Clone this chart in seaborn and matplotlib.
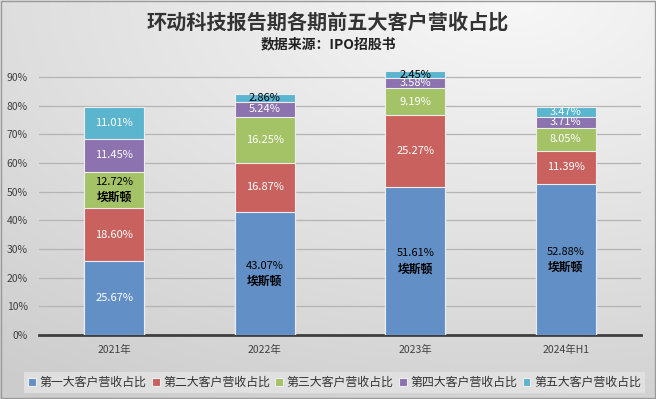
import numpy as np
import pandas as pd
import matplotlib
matplotlib.use("Agg")
import matplotlib.pyplot as plt
import seaborn as sns

periods = ["2021年", "2022年", "2023年", "2024年H1"]
series_names = ["第一大客户营收占比", "第二大客户营收占比", "第三大客户营收占比",
                "第四大客户营收占比", "第五大客户营收占比"]
top1 = [25.67, 43.07, 51.61, 52.88]
top2 = [18.60, 16.87, 25.27, 11.39]
top3 = [12.72, 16.25, 9.19, 8.05]
top4 = [11.45, 5.24, 3.58, 3.71]
top5 = [11.01, 2.86, 2.45, 3.47]
# customer name annotations: (series index, period index) -> name
customer_notes = {(2, 0): "埃斯顿", (0, 1): "埃斯顿", (0, 2): "埃斯顿", (0, 3): "埃斯顿"}

colors = ["#6290C6", "#C9625F", "#A4C266", "#8C72AE", "#5BB5CE"]
label_colors = [
    ["white", "black", "black", "black"],
    ["white", "white", "white", "white"],
    ["black", "white", "white", "white"],
    ["white", "white", "white", "white"],
    ["white", "black", "black", "white"],
]

sns.set_theme(style="white")
plt.rcParams["font.family"] = ["Noto Sans CJK SC", "DejaVu Sans"]

fig = plt.figure(figsize=(6.56, 3.99), dpi=100)

# gradient background
bg = fig.add_axes([0, 0, 1, 1], zorder=-10)
H, W = 200, 330
yy, xx = np.mgrid[0:H, 0:W]
xn = xx / (W - 1)
yn = 1 - yy / (H - 1)
dist = np.sqrt(((xn - 0.78) * 1.0) ** 2 + ((yn - 1.0) * 1.1) ** 2)
v = np.clip(0.97 - 0.13 * dist, 0.80, 1.0)
bg.imshow(np.dstack([v, v, v]), extent=[0, 1, 0, 1], aspect="auto", origin="upper")
bg.set_xlim(0, 1)
bg.set_ylim(0, 1)
bg.axis("off")
bg.add_patch(plt.Rectangle((0.001, 0.002), 0.997, 0.995, fill=False,
                           edgecolor="#9A9A9A", lw=1.0, transform=bg.transAxes))

ax = fig.add_axes([39 / 656, 1 - 335 / 399, 602 / 656, (335 - 70) / 399])
ax.set_facecolor("none")

series = [top1, top2, top3, top4, top5]
cums = np.cumsum(np.array(series), axis=0) / 100.0
df = pd.DataFrame({"period": periods})
for i in range(4, -1, -1):
    df["cum"] = cums[i]
    sns.barplot(data=df, x="period", y="cum", color=colors[i], width=0.4,
                edgecolor="#EDEDED", linewidth=0.8, ax=ax, saturation=1,
                label=series_names[i], zorder=3)

# labels
for i in range(5):
    for j in range(4):
        lo = cums[i - 1][j] if i > 0 else 0.0
        hi = cums[i][j]
        mid = (lo + hi) / 2
        txt = f"{series[i][j]:.2f}%"
        c = label_colors[i][j]
        if (i, j) in customer_notes:
            ax.annotate(txt, (j, mid), xytext=(0, 5.5), textcoords="offset points",
                        ha="center", va="center", fontsize=8, color=c, zorder=5)
            ax.annotate(customer_notes[(i, j)], (j, mid), xytext=(0, -5.5),
                        textcoords="offset points", ha="center", va="center",
                        fontsize=8.5, fontweight="bold", color="black", zorder=5)
        else:
            ax.text(j, mid, txt, ha="center", va="center", fontsize=8,
                    color=c, zorder=5)

ax.set_ylim(0, 0.925)
ax.set_xlim(-0.5, 3.5)
ax.set_yticks(np.arange(0, 0.91, 0.1))
ax.set_yticklabels([f"{int(round(t * 100))}%" for t in np.arange(0, 0.91, 0.1)])
ax.yaxis.grid(True, color="#B4B4B4", lw=0.9, zorder=0)
ax.set_axisbelow(True)
for s in ["top", "right", "left"]:
    ax.spines[s].set_visible(False)
ax.spines["bottom"].set_color("#3F3F3F")
ax.spines["bottom"].set_linewidth(2)
ax.tick_params(axis="both", length=0, labelsize=7.5, colors="#404040")
ax.tick_params(axis="y", pad=8)
ax.tick_params(axis="x", pad=7)
ax.set_xlabel("")
ax.set_ylabel("")

# legend
handles, labels = ax.get_legend_handles_labels()
order = {n: k for k, n in enumerate(series_names)}
hl = sorted(zip(handles, labels), key=lambda p: order[p[1]])
leg = fig.legend([h for h, _ in hl], [l for _, l in hl], loc="lower center",
                 bbox_to_anchor=(0.51, 0.0), ncol=5, fontsize=8.6, frameon=True,
                 handlelength=0.65, handleheight=0.65, handletextpad=0.3,
                 columnspacing=0.45, borderpad=0.35, fancybox=False)
leg.get_frame().set_facecolor("#E4E4E4")
leg.get_frame().set_edgecolor("none")
for t in leg.get_texts():
    t.set_color("#333333")
if ax.legend_:
    ax.legend_.remove()

fig.text(0.5, 1 - 22 / 399, "环动科技报告期各期前五大客户营收占比", ha="center",
         va="center", fontsize=14.5, fontweight="bold", color="#333333")
fig.text(0.5, 1 - 44 / 399, "数据来源：IPO招股书", ha="center", va="center",
         fontsize=10, fontweight="bold", color="#222222")

fig.savefig("out.png", dpi=100)
